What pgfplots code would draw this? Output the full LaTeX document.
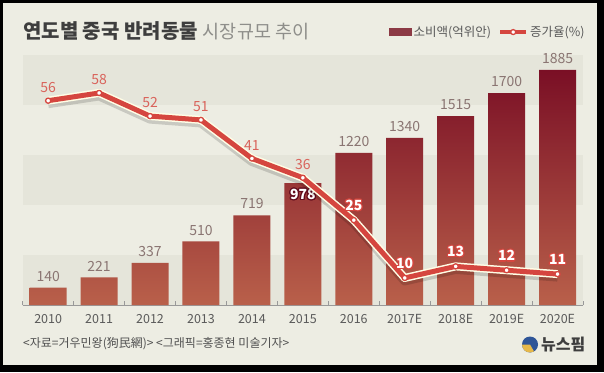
\documentclass[border=0pt]{standalone}
\usepackage{fontspec}
\setmainfont{Noto Sans CJK KR}
\newfontfamily\krpalt[RawFeature=+palt]{Noto Sans CJK KR}
\usepackage{pgfplots}
\pgfplotsset{compat=1.18}
\usepackage[copies]{contour}
\contourlength{1.1pt}
\contournumber{16}
\definecolor{bgc}{HTML}{EDEDE3}
\definecolor{bandc}{HTML}{E5E5DA}
\definecolor{titleDark}{HTML}{3E3E3E}
\definecolor{titleGray}{HTML}{8E8E8A}
\definecolor{tickc}{HTML}{5A5A5A}
\definecolor{barTop}{HTML}{7A0F25}
\definecolor{barBot}{HTML}{B9604A}
\definecolor{barLeg}{HTML}{8C3A45}
\definecolor{barLab}{HTML}{8A7572}
\definecolor{lineRed}{HTML}{D5463F}
\definecolor{labRed}{HTML}{D9635B}
\definecolor{srcc}{HTML}{505050}
\definecolor{logoBlue}{HTML}{2F5597}
\definecolor{logoYellow}{HTML}{E6B84A}
\begin{document}
\begin{tikzpicture}[x=1pt,y=1pt]
\useasboundingbox (0,0) rectangle (604,372);
\fill[black] (0,0) rectangle (604,372);
\fill[bgc] (3,7) rectangle (597,369);
\foreach \t in {317,217,117} {\fill[bandc] (22.7,\t) rectangle (583,\t-50);}
% title
\node[anchor=base west, inner sep=0pt] at (23,333.5) {\krpalt\fontsize{20}{20}\selectfont\bfseries\color{titleDark}연도별 중국 반려동물\hspace{5pt}\mdseries\color{titleGray}\fontsize{18.5}{18.5}\selectfont 시장규모 추이};
% source
\node[anchor=west, inner sep=0pt] at (23,28.5) {\fontsize{12}{12}\selectfont\color{srcc}<자료=거우민왕(狗民網)> <그래픽=홍종현 미술기자>};
% logo
\fill[logoBlue] (530,27.5) circle (8);
\fill[logoYellow] (530,27.5) -- (522,27.5) arc (180:300:8) -- cycle;
\node[anchor=west, inner sep=0pt] at (541,27.5) {\fontsize{16}{16}\selectfont\bfseries\color{titleDark}뉴스핌};
% bars
\begin{axis}[at={(22.7pt,67pt)}, anchor=south west, scale only axis,
  width=560.3pt, height=240pt, xmin=-0.5, xmax=10.5, ymin=0, ymax=1925,
  axis x line*=bottom, axis y line=none, clip=false,
  xtick={0,...,10},
  xticklabels={2010,2011,2012,2013,2014,2015,2016,2017E,2018E,2019E,2020E},
  major tick length=0pt,
  minor xtick={-0.5,0.5,...,10.5}, minor tick length=4pt, tick align=inside,
  minor tick style={draw=gray!80, line width=0.8pt},
  axis line style={draw=gray!80, line width=1pt},
  xticklabel style={font=\fontsize{12.5}{12.5}\selectfont, text=tickc, anchor=north, inner sep=0pt, yshift=-9pt},
]
\addplot[ybar, bar width=37pt, draw=none, top color=barTop, bottom color=barBot] coordinates {
(0,140) (1,221) (2,337) (3,510) (4,719) (5,978) (6,1220) (7,1340) (8,1515) (9,1700) (10,1885)};
\addplot[draw=none, mark=none, nodes near coords, point meta=explicit symbolic,
  nodes near coords style={font=\fontsize{14}{14}\selectfont, text=barLab, anchor=south, inner sep=0pt, yshift=6pt}] coordinates {
(0,140)[140] (1,221)[221] (2,337)[337] (3,510)[510] (4,719)[719] (6,1220)[1220] (7,1340)[1340] (8,1515)[1515] (9,1700)[1700] (10,1885)[1885]};
\addplot[draw=none, mark=none, nodes near coords={\contour{barTop!80!black}{\color{white}\pgfplotspointmeta}}, point meta=explicit symbolic,
  nodes near coords style={font=\fontsize{14}{14}\selectfont\bfseries, anchor=north, inner sep=0pt, yshift=-6pt}] coordinates {(5,978)[978]};
\end{axis}
% line
\begin{axis}[at={(22.7pt,67pt)}, anchor=south west, scale only axis,
  width=560.3pt, height=240pt, xmin=-0.5, xmax=10.5, ymin=2.98, ymax=65.26,
  hide axis, clip=false,
  legend style={at={(0.654,1.171)}, anchor=north west, draw=none, fill=none,
    legend columns=2, font=\fontsize{12.5}{12.5}\selectfont, text=tickc, inner sep=0pt,
    /tikz/every even column/.append style={column sep=5pt}},
]
\addlegendimage{legend image code/.code={\fill[barLeg] (0pt,-3.5pt) rectangle (22pt,3.5pt);}}
\addlegendentry{소비액(억위안)}
\addplot[forget plot, line width=9pt, color=black, opacity=0.15, line join=round, yshift=-3pt] coordinates {
(0,56) (1,58) (2,52) (3,51) (4,41) (5,36) (6,25) (7,10) (8,13) (9,12) (10,11)};
\addplot[forget plot, line width=8pt, color=white!90!yellow, line join=round] coordinates {
(0,56) (1,58) (2,52) (3,51) (4,41) (5,36) (6,25) (7,10) (8,13) (9,12) (10,11)};
\addplot[line width=5pt, color=lineRed, line join=round, mark=*, mark size=2.6pt,
  mark options={fill=white, draw=lineRed, line width=1.3pt},
  legend image code/.code={\draw[lineRed, line width=4pt] (0pt,0pt) -- (26pt,0pt); \filldraw[fill=white, draw=lineRed, line width=1.3pt] (13pt,0pt) circle (2.5pt);}] coordinates {
(0,56) (1,58) (2,52) (3,51) (4,41) (5,36) (6,25) (7,10) (8,13) (9,12) (10,11)};
\addlegendentry{증가율(\%)}
\addplot[forget plot, draw=none, mark=none, nodes near coords, point meta=explicit symbolic,
  nodes near coords style={font=\fontsize{14}{14}\selectfont, text=labRed, anchor=south, inner sep=0pt, yshift=8pt}] coordinates {
(0,56)[56] (1,58)[58] (2,52)[52] (3,51)[51] (4,41)[41] (5,36)[36]};
\addplot[forget plot, draw=none, mark=none, nodes near coords={\contour{lineRed}{\color{white}\pgfplotspointmeta}}, point meta=explicit symbolic,
  nodes near coords style={font=\fontsize{14}{14}\selectfont\bfseries, anchor=south, inner sep=0pt, yshift=8pt}] coordinates {
(6,25)[25] (7,10)[10] (8,13)[13] (9,12)[12] (10,11)[11]};
\end{axis}
\end{tikzpicture}
\end{document}
